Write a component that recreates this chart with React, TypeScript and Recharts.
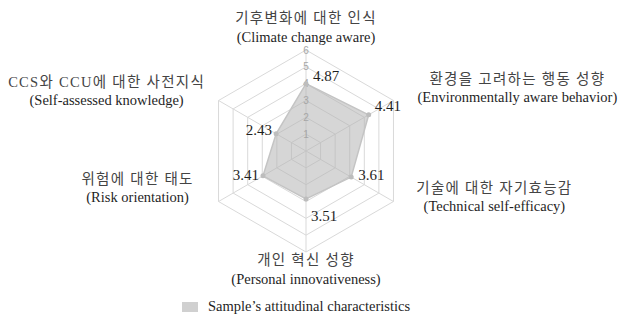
import React from 'react';
import {
  RadarChart,
  Radar,
  PolarGrid,
  PolarAngleAxis,
  PolarRadiusAxis,
  Legend,
} from 'recharts';

// axis names, clockwise from the top
const categoriesKo = [
  '기후변화에 대한 인식',
  '환경을 고려하는 행동 성향',
  '기술에 대한 자기효능감',
  '개인 혁신 성향',
  '위험에 대한 태도',
  'CCS와 CCU에 대한 사전지식',
];
const categoriesEn = [
  '(Climate change aware)',
  '(Environmentally aware behavior)',
  '(Technical self-efficacy)',
  '(Personal innovativeness)',
  '(Risk orientation)',
  '(Self-assessed knowledge)',
];
// where the polygon is drawn in the figure (on the 0–6 grid)
const plotted = [4.0, 4.3, 3.1, 2.85, 2.95, 2.05];
// the numbers printed next to each point
const valueLabels = ['4.87', '4.41', '3.61', '3.51', '3.41', '2.43'];
const radiusTicks = [0, 1, 2, 3, 4, 5, 6];
const seriesName = 'Sample\u2019s attitudinal characteristics';

const data = categoriesKo.map((ko, i) => ({
  axis: ko,
  en: categoriesEn[i],
  value: plotted[i],
  label: valueLabels[i],
}));

const SERIF = "'Liberation Serif', 'DejaVu Serif', 'Noto Sans CJK KR', serif";
const TEXT = '#1f1f1f';
const FILL = '#b4b4b4';

// offsets of the two-line axis titles from the tick point recharts gives us
const titleOffsets = [
  { dx: 0, dy: -24 },
  { dx: 117, dy: -18 },
  { dx: 94, dy: -18 },
  { dx: 0, dy: 0 },
  { dx: -74, dy: -27 },
  { dx: -105, dy: -15 },
];

// value label placement relative to each dot
const labelOffsets = [
  { dx: 7, dy: -8, anchor: 'start' },
  { dx: 6, dy: -9, anchor: 'start' },
  { dx: 7, dy: -2, anchor: 'start' },
  { dx: 5, dy: 17, anchor: 'start' },
  { dx: -4, dy: -1, anchor: 'end' },
  { dx: -4, dy: -4, anchor: 'end' },
];

function AngleTick({ x, y, payload, index }: any) {
  const i = payload?.index ?? index ?? 0;
  const off = titleOffsets[i];
  const cx = x + off.dx;
  const cy = y + off.dy;
  return (
    <text x={cx} y={cy} textAnchor="middle" fontFamily={SERIF} fontSize={14.5}>
      <tspan x={cx} dy={5} fill="#444" letterSpacing={1.3}>{categoriesKo[i]}</tspan>
      <tspan x={cx} dy={18.5} fill={TEXT}>{categoriesEn[i]}</tspan>
    </text>
  );
}

function RadiusTick({ x, y, payload }: any) {
  if (payload.value === 0) return null;
  return (
    <text
      x={x}
      y={y}
      textAnchor="middle"
      dominantBaseline="central"
      fill="#a6a6a6"
      fontFamily="Arial, 'Liberation Sans', sans-serif"
      fontSize={10}
    >
      {payload.value}
    </text>
  );
}

function ValueDot({ cx, cy, index, payload }: any) {
  const i = index ?? 0;
  const off = labelOffsets[i];
  return (
    <g key={`dot-${i}`}>
      <circle cx={cx} cy={cy} r={2.5} fill="#bdbdbd" stroke="none" />
      <text
        x={cx + off.dx}
        y={cy + off.dy}
        textAnchor={off.anchor}
        dominantBaseline="central"
        fill={TEXT}
        fontFamily={SERIF}
        fontSize={15}
      >
        {payload?.label ?? valueLabels[i]}
      </text>
    </g>
  );
}

function LegendContent() {
  return (
    <div style={{ display: 'flex', alignItems: 'center', paddingLeft: 182 }}>
      <span style={{ display: 'inline-block', width: 16, height: 10, background: '#d0d0d0', marginRight: 10 }} />
      <span style={{ fontFamily: SERIF, fontSize: 14.5, color: TEXT }}>{seriesName}</span>
    </div>
  );
}

export default function App() {
  return (
    <div style={{ position: 'absolute', left: 0, top: 0, width: 628, height: 319, background: '#fff' }}>
      <RadarChart
        width={628}
        height={319}
        data={data}
        cx={306}
        cy={151}
        outerRadius={101}
        margin={{ top: 0, right: 0, bottom: 0, left: 0 }}
      >
        <PolarGrid gridType="polygon" stroke="#d9d9d9" strokeWidth={1} />
        <PolarAngleAxis dataKey="axis" tick={<AngleTick />} tickLine={false} axisLine={false} />
        <PolarRadiusAxis
          angle={90}
          domain={[0, 6]}
          ticks={radiusTicks as any}
          tickCount={7}
          tick={<RadiusTick />}
          axisLine={false}
          tickLine={false}
        />
        <Radar
          name={seriesName}
          dataKey="value"
          stroke="#c4c4c4"
          strokeWidth={1.5}
          fill={FILL}
          fillOpacity={0.55}
          dot={<ValueDot />}
          isAnimationActive={false}
        />
        <Legend content={<LegendContent />} wrapperStyle={{ position: 'absolute', top: 298, left: 0, width: 628 }} />
      </RadarChart>
    </div>
  );
}
